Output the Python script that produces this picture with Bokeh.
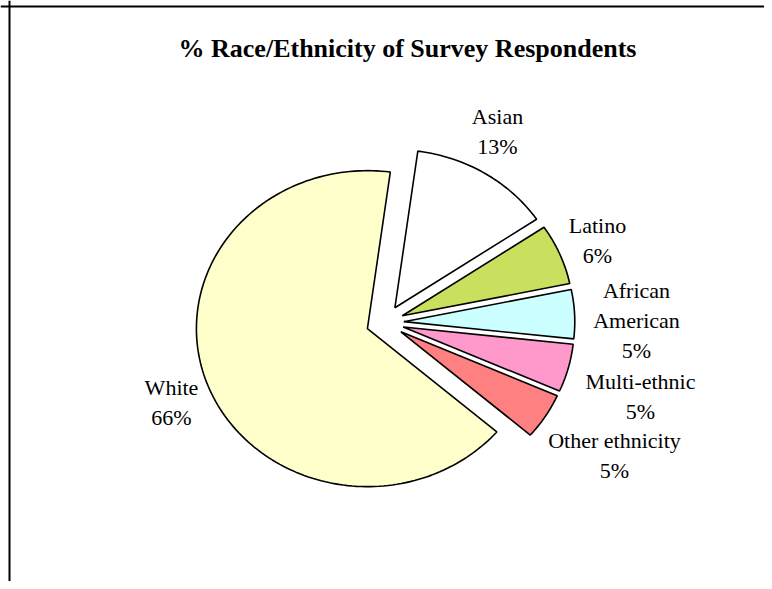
import math
from bokeh.plotting import figure
from bokeh.models import Range1d, Span, ColumnDataSource
from bokeh.core.properties import value
from bokeh.embed import file_html
from bokeh.resources import INLINE

# ---- data ----
categories = ["Asian", "Latino", "African American", "Multi-ethnic", "Other ethnicity", "White"]
shares = [13.4, 6.2, 5.0, 4.9, 4.7, 65.8]
pct_labels = ["13%", "6%", "5%", "5%", "5%", "66%"]
name_lines = [["Asian"], ["Latino"], ["African", "American"], ["Multi-ethnic"], ["Other ethnicity"], ["White"]]
colors = ["#FFFFFF", "#C8E05E", "#CCFFFF", "#FF99CC", "#FF8080", "#FFFFCC"]

# ---- layout ----
W, H = 764, 581
CX, CY = 384.5, 322.0          # pie centre in canvas px (from top)
RX, RY = 171.0, 158.0          # pie radii in px
START = 7.7                    # first slice angle, degrees clockwise from 12 o'clock
EXPLODE = 0.11
FONT = "Liberation Serif"
# label anchor (canvas px, from top) for the first line of each label
label_pos = [(497, 116), (597, 225), (636, 290), (640, 381), (614, 440), (171, 387)]
LINE_H = 30

x0 = -CX / RX
x1 = (W - CX) / RX
y0 = -(H - CY) / RY
y1 = CY / RY

p = figure(width=W, height=H, x_range=Range1d(x0, x1), y_range=Range1d(y0, y1),
           output_backend="svg", toolbar_location=None, min_border=0,
           background_fill_color="white", border_fill_color="white")
p.axis.visible = False
p.grid.visible = False
p.outline_line_color = None

# frame lines (left and top)
p.add_layout(Span(location=x0 + 9.0 / RX, dimension="height", line_color="black", line_width=2))
p.add_layout(Span(location=y1 - 6.0 / RY, dimension="width", line_color="black", line_width=2))

total = sum(shares)
acc = START
xs, ys = [], []
for s in shares:
    a0 = acc
    a1 = acc + s / total * 360.0
    acc = a1
    mid = math.radians((a0 + a1) / 2)
    ox, oy = EXPLODE * math.sin(mid), EXPLODE * math.cos(mid)
    n = max(4, int((a1 - a0) / 1.5))
    px, py = [ox], [oy]
    for i in range(n + 1):
        t = math.radians(a0 + (a1 - a0) * i / n)
        px.append(ox + math.sin(t))
        py.append(oy + math.cos(t))
    xs.append(px)
    ys.append(py)

src = ColumnDataSource(dict(xs=xs, ys=ys, color=colors))
p.patches("xs", "ys", source=src, fill_color="color", line_color="black", line_width=1.6)

# labels
def to_data(px, py):
    return (px - CX) / RX, (CY - py) / RY

tx, ty, tt = [], [], []
for lines, pct, (lx, ly) in zip(name_lines, pct_labels, label_pos):
    allines = lines + [pct]
    for k, line in enumerate(allines):
        dx, dy = to_data(lx, ly + k * LINE_H)
        tx.append(dx)
        ty.append(dy)
        tt.append(line)
p.text(x=tx, y=ty, text=tt, text_font=value(FONT), text_font_size="22px",
       text_align="center", text_baseline="middle", text_color="black")

# title
tx0, ty0 = to_data(407, 48)
p.text(x=[tx0], y=[ty0], text=["% Race/Ethnicity of Survey Respondents"], text_font=value(FONT),
       text_font_size="26px", text_font_style="bold", text_align="center",
       text_baseline="middle", text_color="black")

open("out.html", "w").write(file_html(p, INLINE))
